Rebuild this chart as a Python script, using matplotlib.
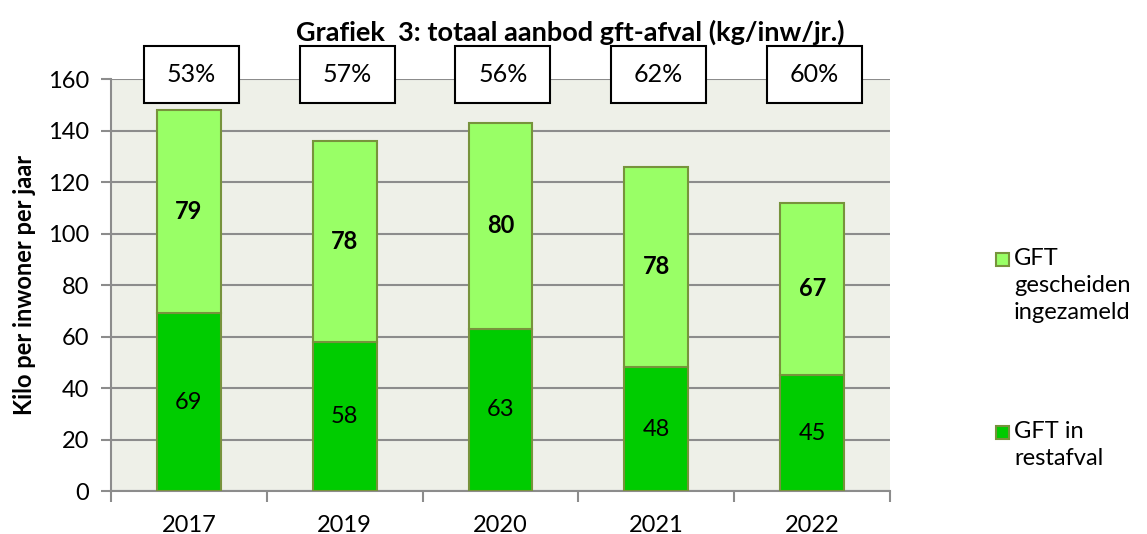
import matplotlib.pyplot as plt
from matplotlib.patches import Rectangle

# data
jaren = ['2017', '2019', '2020', '2021', '2022']
gft_restafval = [69, 58, 63, 48, 45]
gft_gescheiden = [79, 78, 80, 78, 67]
percentages = ['53%', '57%', '56%', '62%', '60%']
legenda = ['GFT\ngescheiden\ningezameld', 'GFT in\nrestafval']

plt.rcParams['font.family'] = ['Lato', 'DejaVu Sans']

donker = '#00cc00'
licht = '#99ff66'
rand = '#77933c'
grijs = '#8c8c8c'

W, H = 1147, 534
fig = plt.figure(figsize=(W / 100, H / 100), dpi=100)
ax = fig.add_axes([0.0968, 0.0805, 0.6792, 0.7715])
ax.set_facecolor('#eef0e8')

x = range(len(jaren))
ax.bar(x, gft_restafval, width=0.41, color=donker, edgecolor=rand, linewidth=1.5, zorder=3)
ax.bar(x, gft_gescheiden, width=0.41, bottom=gft_restafval, color=licht, edgecolor=rand,
       linewidth=1.5, zorder=3)

# waarden in de staven
for i in x:
    ax.text(i, gft_restafval[i] / 2, str(gft_restafval[i]), ha='center', va='center',
            fontsize=17, zorder=4)
    ax.text(i, gft_restafval[i] + gft_gescheiden[i] / 2, str(gft_gescheiden[i]), ha='center',
            va='center', fontsize=17, fontweight='bold', zorder=4)

# percentage-blokjes boven de staven
for i in x:
    ax.add_patch(Rectangle((i - 0.29, 150.8), 0.61, 22, facecolor='white', edgecolor='black',
                           linewidth=1.5, clip_on=False, zorder=5))
    ax.text(i + 0.015, 161.8, percentages[i], ha='center', va='center', fontsize=18,
            zorder=6, clip_on=False)

ax.set_xlim(-0.5, 4.5)
ax.set_ylim(0, 160)
ax.set_yticks(range(0, 161, 20))
ax.yaxis.grid(True, color=grijs, linewidth=1.5, zorder=1)
ax.tick_params(axis='y', labelsize=17, length=7, width=1.5, color=grijs, pad=9)

# jaartallen in het midden, streepjes tussen de categorieen
ax.set_xticks([i - 0.5 for i in range(len(jaren) + 1)])
ax.set_xticklabels([])
ax.set_xticks(list(x), minor=True)
ax.set_xticklabels(jaren, minor=True)
ax.tick_params(axis='x', which='major', length=8, width=1.5, color=grijs, direction='out')
ax.tick_params(axis='x', which='minor', length=0, labelsize=17, pad=17)

for s in ['top', 'right']:
    ax.spines[s].set_visible(False)
for s in ['left', 'bottom']:
    ax.spines[s].set_color(grijs)
    ax.spines[s].set_linewidth(1.5)

ax.set_ylabel('Kilo per inwoner per jaar', fontsize=17, fontweight='bold', labelpad=8)
fig.text(0.497, 0.94, 'Grafiek  3: totaal aanbod gft-afval (kg/inw/jr.)', ha='center',
         va='center', fontsize=19.5, fontweight='bold')

# legenda met het blokje naast de eerste regel
for tekst, kleur, y in [(legenda[0], licht, 260), (legenda[1], donker, 433)]:
    fig.add_artist(Rectangle((996 / W, 1 - (y + 6) / H), 13 / W, 13 / H, facecolor=kleur,
                             edgecolor=rand, linewidth=1.5, transform=fig.transFigure))
    fig.text(1014 / W, 1 - (y - 12) / H, tekst, ha='left', va='top', fontsize=17,
             linespacing=1.35)

fig.savefig('out.png', dpi=100)
